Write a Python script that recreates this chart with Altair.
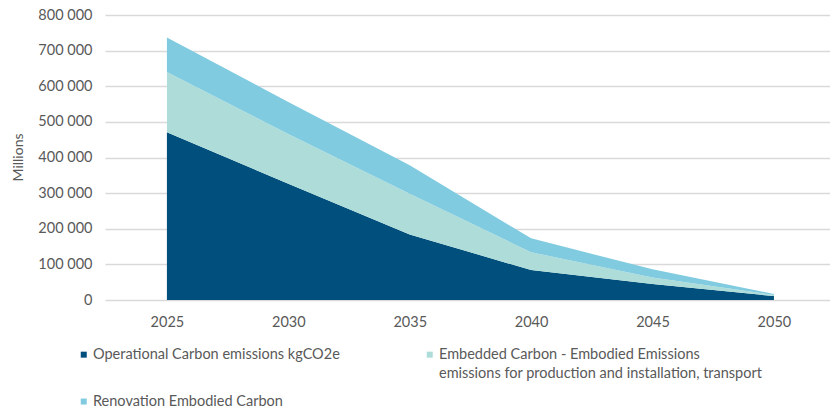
import altair as alt
import pandas as pd

years = [2025, 2030, 2035, 2040, 2045, 2050]
operational = [471000, 326000, 184000, 84000, 45000, 11000]
embedded = [169000, 140000, 114000, 50000, 18000, 3000]
renovation = [97000, 90000, 80000, 39000, 23000, 3000]

series_names = [
    "Operational Carbon emissions kgCO2e",
    "Embedded Carbon - Embodied Emissions|emissions for production and installation, transport",
    "Renovation Embodied Carbon",
]
series_colors = ["#004F7C", "#AEDDD9", "#80CBE0"]

rows = []
for idx, (name, vals) in enumerate(zip(series_names, [operational, embedded, renovation])):
    for y, v in zip(years, vals):
        rows.append({"year": y, "value": v, "series": name, "order": idx})
df = pd.DataFrame(rows)

font = "Lato"
grey = "#595959"

# small square swatch, nudged down so it sits beside the first label line
swatch = "M-1,1.1 L1,1.1 L1,3.1 L-1,3.1 Z"

# labels in the first legend row are both laid out as two lines so they line up
label_expr = (
    "indexof(datum.label, '|') >= 0 ? split(datum.label, '|') : "
    "(datum.label == 'Renovation Embodied Carbon' ? datum.label : [datum.label, ' '])"
)

chart = alt.Chart(df).mark_area(opacity=1).encode(
    x=alt.X(
        "year:Q",
        scale=alt.Scale(domain=[2022.45, 2052.31], nice=False, zero=False),
        axis=alt.Axis(
            values=years, format="d", grid=False, domain=False, ticks=False,
            labelPadding=15, title=None,
        ),
    ),
    y=alt.Y(
        "value:Q",
        stack="zero",
        scale=alt.Scale(domain=[0, 800000], nice=False),
        axis=alt.Axis(
            values=list(range(0, 800001, 100000)),
            labelExpr="replace(format(datum.value, ','), ',', ' ')",
            domain=False, ticks=False, labelPadding=13,
            gridColor="#D9D9D9", gridWidth=1.3,
            title="Millions", titleX=-87, titleY=142, titleAngle=-90,
            titleFontWeight="normal", titleAlign="center", titleBaseline="middle",
        ),
    ),
    color=alt.Color(
        "series:N",
        scale=alt.Scale(domain=series_names, range=series_colors),
        legend=alt.Legend(
            orient="none", legendX=-28.5, legendY=326, columns=2,
            direction="horizontal",
            title=None, symbolType=swatch, symbolSize=36, symbolStrokeWidth=0,
            labelExpr=label_expr, labelLimit=600,
            columnPadding=82, rowPadding=7, labelBaseline="top", labelOffset=2,
        ),
    ),
    order=alt.Order("order:Q", sort="ascending"),
).properties(
    width=725, height=285,
    padding={"left": 105, "top": 15, "right": 0, "bottom": 112},
    autosize=alt.AutoSizeParams(type="none"),
).configure(
    style={"guide-label": {"lineHeight": 19}}
).configure_view(
    stroke=None
).configure_axis(
    labelFont=font, titleFont=font, labelFontSize=14.5, titleFontSize=14,
    labelColor=grey, titleColor=grey,
).configure_legend(
    labelFont=font, labelFontSize=14.5, labelColor=grey,
)

chart.save("out.html", embed_options={"renderer": "svg", "actions": False})
